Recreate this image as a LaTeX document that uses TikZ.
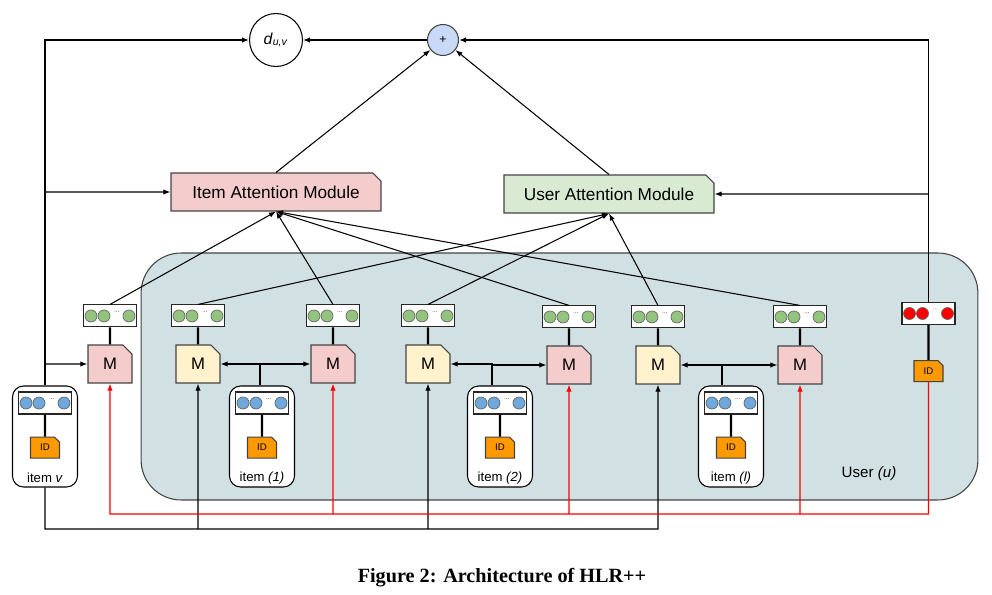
\documentclass[tikz,border=0pt]{standalone}
\usepackage{fontspec}
\setmainfont{Liberation Sans}
\newfontfamily\captionfont{Liberation Serif}
\usepackage{tikz}
\usetikzlibrary{arrows.meta,positioning,shapes.misc}

\definecolor{pinkfill}{HTML}{F4CCCC}
\definecolor{greenfill}{HTML}{D9EAD3}
\definecolor{yellowfill}{HTML}{FFF2CC}
\definecolor{userfill}{HTML}{D0E0E3}
\definecolor{plusfill}{HTML}{C9DAF8}
\definecolor{idfill}{HTML}{FF9900}
\definecolor{greencirc}{HTML}{93C47D}
\definecolor{bluecirc}{HTML}{6FA8DC}
\definecolor{redcirc}{HTML}{FF0000}
\definecolor{edgegray}{HTML}{434343}

\begin{document}
\begin{tikzpicture}[
    x=0.02cm, y=-0.02cm,
    >={Latex[length=4pt,width=3pt]},
    line width=0.6pt,
    node distance=0.34cm,
    module/.style={draw=edgegray, chamfered rectangle, chamfered rectangle corners=north east,
        chamfered rectangle xsep=0.08cm, chamfered rectangle ysep=0.08cm, inner sep=0pt,
        minimum width=4.2cm, minimum height=0.76cm, font=\fontsize{9.8}{11}\selectfont},
    mbox/.style={draw=edgegray, chamfered rectangle, chamfered rectangle corners=north east,
        chamfered rectangle xsep=0.09cm, chamfered rectangle ysep=0.09cm, inner sep=0pt,
        minimum width=0.88cm, minimum height=0.76cm, font=\fontsize{9.5}{11}\selectfont},
    idbox/.style={draw=edgegray, fill=idfill, chamfered rectangle, chamfered rectangle corners=north east,
        chamfered rectangle xsep=0.05cm, chamfered rectangle ysep=0.05cm, inner sep=0pt,
        minimum width=0.58cm, minimum height=0.42cm, font=\fontsize{5.5}{6}\selectfont},
    emb/.style={draw=black!85, fill=white, minimum width=1.06cm, minimum height=0.44cm, inner sep=0pt,
        path picture={
            \foreach \dx in {-0.38,-0.12,0.38}
                \draw[fill=#1, draw=black!60, line width=0.4pt]
                    ([xshift=\dx cm]path picture bounding box.center) circle (0.12cm);
            \foreach \dx in {0.1,0.135,0.17}
                \fill[black!60] ([xshift=\dx cm, yshift=0.09cm]path picture bounding box.center) circle (0.25pt);
        }},
    itembox/.style={draw=black, fill=white, rounded corners=0.22cm, minimum width=1.3cm, minimum height=2.02cm},
    itemlbl/.style={font=\fontsize{7.5}{9}\selectfont, inner sep=0pt},
    link/.style={line width=1.2pt}
]
\useasboundingbox (0,0) rectangle (992,595);

% User block
\node[draw=edgegray, fill=userfill, rounded corners=0.8cm, minimum width=16.74cm, minimum height=4.94cm] (user) at (559.5,376.5) {};
\node[font=\fontsize{8.6}{10}\selectfont] (userlbl) at (869,474) {User \textit{(u)}};

% Output
\node[draw=black, circle, minimum size=1.06cm, inner sep=0pt] (duv) at (276,40) {\fontsize{9}{10}\selectfont\textit{d}\textsubscript{\textit{u,v}}};
\node[draw=edgegray, fill=plusfill, circle, minimum size=0.62cm, inner sep=0pt, font=\fontsize{7}{8}\selectfont] (plus) at (443,40) {+};

% Attention modules
\node[module, fill=pinkfill] (iatt) at (276,192) {Item Attention Module};
\node[module, fill=greenfill] (uatt) at (609,194) {User Attention Module};

% M units
\node[mbox, fill=pinkfill] (mv) at (110,364) {M};
\node[mbox, fill=yellowfill] (ym1) at (198,364) {M};
\node[mbox, fill=pinkfill] (pm1) at (333,364) {M};
\node[mbox, fill=yellowfill] (ym2) at (428,364) {M};
\node[mbox, fill=pinkfill] (pm2) at (569,365) {M};
\node[mbox, fill=yellowfill] (ym3) at (658,365) {M};
\node[mbox, fill=pinkfill] (pm3) at (800,365) {M};

% Hidden states
\node[emb=greencirc, above=of mv] (mv-emb) {};
\node[emb=greencirc, above=of ym1] (ym1-emb) {};
\node[emb=greencirc, above=of pm1] (pm1-emb) {};
\node[emb=greencirc, above=of ym2] (ym2-emb) {};
\node[emb=greencirc, above=of pm2] (pm2-emb) {};
\node[emb=greencirc, above=of ym3] (ym3-emb) {};
\node[emb=greencirc, above=of pm3] (pm3-emb) {};

% User embedding
\node[emb=redcirc] (uemb) at (928.5,313.5) {};
\node[idbox, below=0.7cm of uemb] (uid) {ID};

% Items
\node[itembox] (itemv) at (45,436.5) {};
\node[emb=bluecirc, below=0.12cm of itemv.north] (itemv-emb) {};
\node[idbox, below=0.44cm of itemv-emb] (itemv-id) {ID};
\node[itemlbl] (itemv-lbl) at ([yshift=0.19cm]itemv.south) {item \textit{v}};

\node[itembox] (item1) at (262,436.5) {};
\node[emb=bluecirc, below=0.12cm of item1.north] (item1-emb) {};
\node[idbox, below=0.44cm of item1-emb] (item1-id) {ID};
\node[itemlbl] (item1-lbl) at ([yshift=0.19cm]item1.south) {item \textit{(1)}};

\node[itembox] (item2) at (500,436.5) {};
\node[emb=bluecirc, below=0.12cm of item2.north] (item2-emb) {};
\node[idbox, below=0.44cm of item2-emb] (item2-id) {ID};
\node[itemlbl] (item2-lbl) at ([yshift=0.19cm]item2.south) {item \textit{(2)}};

\node[itembox] (iteml) at (731,436.5) {};
\node[emb=bluecirc, below=0.12cm of iteml.north] (iteml-emb) {};
\node[idbox, below=0.44cm of iteml-emb] (iteml-id) {ID};
\node[itemlbl] (iteml-lbl) at ([yshift=0.19cm]iteml.south) {item \textit{(l)}};

% Caption
\node[font=\captionfont\bfseries\fontsize{11.5}{13}\selectfont] (caption) at (502,578) {Figure 2: Architecture of HLR++};

\coordinate (redbus) at (0,514);
\coordinate (blackbus) at (0,529);
\coordinate (item1-out) at ([xshift=-0.04cm]item1.north);
\coordinate (item2-out) at ([xshift=-0.16cm]item2.north);
\coordinate (iteml-out) at ([xshift=-0.18cm]iteml.north);

% Short links
\draw[link] (mv-emb) -- (mv);
\draw[link] (ym1-emb) -- (ym1);
\draw[link] (pm1-emb) -- (pm1);
\draw[link] (ym2-emb) -- (ym2);
\draw[link] (pm2-emb) -- (pm2);
\draw[link] (ym3-emb) -- (ym3);
\draw[link] (pm3-emb) -- (pm3);
\draw[link] (uemb) -- (uid);
\draw[link] (itemv-emb) -- (itemv-id);
\draw[link] (item1-emb) -- (item1-id);
\draw[link] (item2-emb) -- (item2-id);
\draw[link] (iteml-emb) -- (iteml-id);

% Output connections
\draw[->] (plus) -- (duv);
\draw[->] (iatt.north) -- (plus);
\draw[->] (uatt.north) -- (plus);

% Target item
\draw[->] (itemv.north) |- (duv);
\draw[->] (itemv.north |- iatt) -- (iatt);
\draw[->] (itemv.north |- mv) -- (mv);

% User
\draw[->] (uemb.north) |- (plus);
\draw[->] (uemb.north |- uatt) -- (uatt);

% History items into M units
\draw[->] (item1-out) |- (ym1);
\draw[->] (item1-out) |- (pm1);
\draw[->] (item2-out) |- (ym2);
\draw[->] (item2-out) |- (pm2);
\draw[->] (iteml-out) |- (ym3);
\draw[->] (iteml-out) |- (pm3);

% Bottom buses
\draw[->] (itemv.south) |- (ym3 |- blackbus) -- (ym3);
\draw[->] (ym1 |- blackbus) -- (ym1);
\draw[->] (ym2 |- blackbus) -- (ym2);

\draw[->, red] (uid.south) |- (mv |- redbus) -- (mv);
\draw[->, red] (pm1 |- redbus) -- (pm1);
\draw[->, red] (pm2 |- redbus) -- (pm2);
\draw[->, red] (pm3 |- redbus) -- (pm3);

% Attention inputs
\draw[->] (mv-emb.north) -- (iatt.south);
\draw[->] (pm1-emb.north) -- (iatt.south);
\draw[->] (pm2-emb.north) -- (iatt.south);
\draw[->] (pm3-emb.north) -- (iatt.south);
\draw[->] (ym1-emb.north) -- (uatt.south);
\draw[->] (ym2-emb.north) -- (uatt.south);
\draw[->] (ym3-emb.north) -- (uatt.south);

\end{tikzpicture}
\end{document}
